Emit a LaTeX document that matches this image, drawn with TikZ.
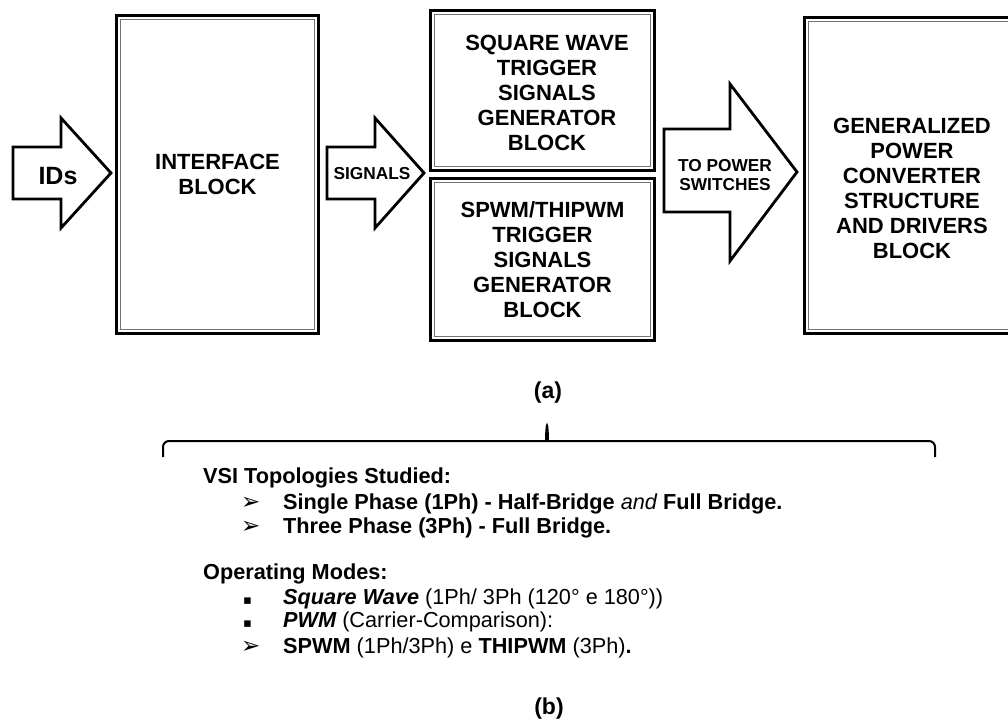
\documentclass[tikz,border=0pt]{standalone}
\usepackage{fontspec}
\setmainfont{Liberation Sans}
\newfontfamily\symfont{DejaVu Sans}
\usepackage{tikz}
\usetikzlibrary{positioning,calc}

\begin{document}
\begin{tikzpicture}[x=1pt, y=-1pt,
  blockbox/.style={draw, line width=3.4pt, inner sep=0pt, align=center, font=\bfseries\fontsize{22}{25}\selectfont},
  innerline/.style={draw=black!55, line width=1.3pt},
  blockarrow/.style={draw, line width=2.8pt, line join=miter, fill=white},
  arrowtext/.style={align=center, inner sep=0pt, font=\bfseries\fontsize{17.3}{19}\selectfont},
  listtext/.style={anchor=base west, inner sep=0pt, font=\bfseries\fontsize{21.7}{24}\selectfont},
  arrowbullet/.style={anchor=base west, inner sep=0pt, font=\symfont\bfseries\fontsize{23}{23}\selectfont},
  squarebullet/.style={anchor=base west, inner sep=0pt, font=\symfont\fontsize{13}{13}\selectfont},
  captext/.style={inner sep=0pt, font=\bfseries\fontsize{23}{26}\selectfont},
  brace/.style={line width=2pt, rounded corners=6pt}]
\useasboundingbox (0,0) rectangle (1008,722);

% (a) blocks
\node[blockbox, minimum width=202pt, minimum height=318pt] (iface) at (217.5,174.5) {INTERFACE\\BLOCK};
\node[blockbox, minimum width=224pt, minimum height=160pt] (sqw) at (542.5,90.5) {};
\node[blockbox, draw=none] (sqwtxt) at (547,93) {SQUARE WAVE\\TRIGGER\\SIGNALS\\GENERATOR\\BLOCK};
\node[blockbox, minimum width=224pt, minimum height=162pt] (pwm) at (542.5,259.5) {SPWM/THIPWM\\TRIGGER\\SIGNALS\\GENERATOR\\BLOCK};
\node[blockbox, minimum width=215pt, minimum height=316pt] (conv) at (912,175.5) {};
\node[blockbox, draw=none] (convtxt) at (912,188) {GENERALIZED\\POWER\\CONVERTER\\STRUCTURE\\AND DRIVERS\\BLOCK};
\foreach \n in {iface,sqw,pwm,conv}
  \draw[innerline] ($(\n.north west)+(5.5,5.5)$) rectangle ($(\n.south east)+(-5.5,-5.5)$);

% block arrows
\draw[blockarrow] (13,147) -- (61,147) -- (61,118) -- (111,173) -- (61,228) -- (61,199) -- (13,199) -- cycle;
\node[inner sep=0pt, font=\bfseries\fontsize{25}{25}\selectfont] (ids) at (58,176) {IDs};
\draw[blockarrow] (327,147) -- (375,147) -- (375,118) -- (424,173) -- (375,228) -- (375,199) -- (327,199) -- cycle;
\node[arrowtext] (sig) at (372,174) {SIGNALS};
\draw[blockarrow] (664,129) -- (730,129) -- (730,84) -- (797,172) -- (730,261) -- (730,212) -- (664,212) -- cycle;
\node[arrowtext] (pow) at (725,175) {TO POWER\\SWITCHES};

\node[captext] (capa) at (548,392.5) {(a)};

% brace
\draw[brace] (163,457) |- (541,441) .. controls (545.5,441) and (546,436) .. (547,422)
  .. controls (548,436) and (548.5,441) .. (553,441) -| (935,457);

% (b) text
\node[listtext] (topo) at (203,483) {VSI Topologies Studied:};
\node[arrowbullet] (b1) at (241,509) {➢};
\node[listtext] (topo1) at (283,509) {Single Phase (1Ph) - Half-Bridge {\mdseries\itshape and} Full Bridge.};
\node[arrowbullet] (b2) at (241,533) {➢};
\node[listtext] (topo2) at (283,533) {Three Phase (3Ph) - Full Bridge.};

\node[listtext] (modes) at (203,579) {Operating Modes:};
\node[squarebullet] (b3) at (243,604) {▪};
\node[listtext] (mode1) at (283,604) {\itshape Square Wave {\upshape\mdseries (1Ph/ 3Ph (120° e 180°))}};
\node[squarebullet] (b4) at (243,627) {▪};
\node[listtext] (mode2) at (283,627) {\itshape PWM {\upshape\mdseries (Carrier-Comparison):}};
\node[arrowbullet] (b5) at (241,653) {➢};
\node[listtext] (mode3) at (283,653) {SPWM {\mdseries (1Ph/3Ph) e} THIPWM {\mdseries (3Ph)}.};

\node[captext] (capb) at (549,708.5) {(b)};
\end{tikzpicture}
\end{document}
